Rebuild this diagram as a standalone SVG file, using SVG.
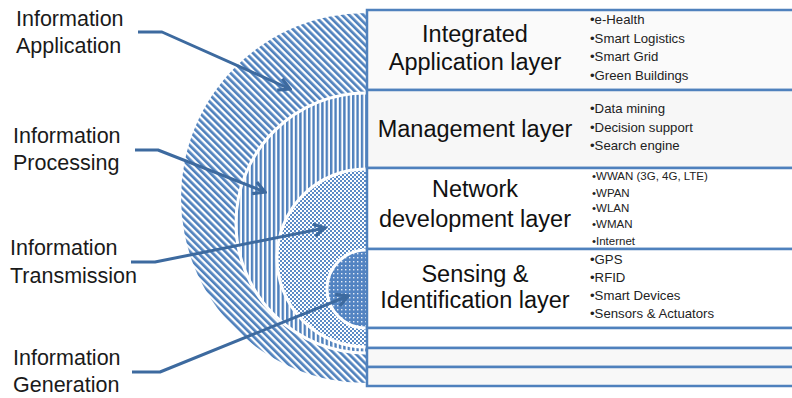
<svg xmlns="http://www.w3.org/2000/svg" width="792" height="398" viewBox="0 0 792 398">
<style>
.lbl{font-family:"Liberation Sans",Arial,sans-serif;font-size:21.5px;fill:#1a1a1a}
.big{font-family:"Liberation Sans",Arial,sans-serif;font-size:23.5px;fill:#111;text-anchor:middle}
.bul{font-family:"Liberation Sans",Arial,sans-serif;font-size:13.2px;fill:#222}
.bul2{font-family:"Liberation Sans",Arial,sans-serif;font-size:11.5px;fill:#222}
.box{stroke:#4f81bd;stroke-width:2.5}
.ring{stroke:#fff;stroke-width:3}
.arr{fill:none;stroke:#3d6a9f;stroke-width:3;stroke-linejoin:round;marker-end:url(#ah)}
</style>
<defs>
<pattern id="pDiag" patternUnits="userSpaceOnUse" width="5" height="5" patternTransform="rotate(-45)">
<rect width="5" height="5" fill="#fff"/><rect width="2.7" height="5" fill="#4f81bd"/>
</pattern>
<pattern id="pVert" patternUnits="userSpaceOnUse" width="4.4" height="4">
<rect width="4.4" height="4" fill="#fff"/><rect width="2.4" height="4" fill="#4f81bd"/>
</pattern>
<pattern id="pCheck" patternUnits="userSpaceOnUse" width="4" height="4">
<rect width="4" height="4" fill="#fff"/><rect width="2" height="2" fill="#5b8bc6"/><rect x="2" y="2" width="2" height="2" fill="#5b8bc6"/>
</pattern>
<pattern id="pDense" patternUnits="userSpaceOnUse" width="4" height="4">
<rect width="4" height="4" fill="#5384c2"/><rect x="1" y="1" width="1.4" height="1.4" fill="#e4ecf6"/>
</pattern>
<marker id="ah" viewBox="0 0 12 12" refX="10" refY="6" markerWidth="5" markerHeight="5" orient="auto" markerUnits="strokeWidth">
<polyline points="1,1 10,6 1,11" fill="none" stroke="#3d6a9f" stroke-width="2.6" stroke-linejoin="miter"/>
</marker>
</defs>

<g id="rings">
<circle cx="366" cy="198" r="185" fill="url(#pDiag)"/>
<circle class="ring" cx="366" cy="223" r="130" fill="url(#pVert)"/>
<circle class="ring" cx="366" cy="258" r="89" fill="url(#pCheck)"/>
<circle class="ring" cx="366" cy="289" r="39" fill="url(#pDense)"/>
</g>

<g id="layer-application">
<rect class="box" x="367" y="10" width="430" height="80" fill="#fafafa"/>
<text class="big" x="475" y="42">Integrated</text>
<text class="big" x="475" y="70">Application layer</text>
<text class="bul" x="590" y="24">•e-Health</text>
<text class="bul" x="590" y="43">•Smart Logistics</text>
<text class="bul" x="590" y="61">•Smart Grid</text>
<text class="bul" x="590" y="80">•Green Buildings</text>
</g>
<g id="layer-management">
<rect class="box" x="367" y="90" width="430" height="78" fill="#f7f7f7"/>
<text class="big" x="475" y="137">Management layer</text>
<text class="bul" x="590" y="113">•Data mining</text>
<text class="bul" x="590" y="132">•Decision support</text>
<text class="bul" x="590" y="150">•Search engine</text>
</g>
<g id="layer-network">
<rect class="box" x="367" y="168" width="430" height="81" fill="#ffffff"/>
<text class="big" x="475" y="197">Network</text>
<text class="big" x="475" y="227">development layer</text>
<text class="bul2" x="592" y="180">•WWAN (3G, 4G, LTE)</text>
<text class="bul2" x="592" y="197">•WPAN</text>
<text class="bul2" x="592" y="212">•WLAN</text>
<text class="bul2" x="592" y="228">•WMAN</text>
<text class="bul2" x="592" y="245">•Internet</text>
</g>
<g id="layer-sensing">
<rect class="box" x="367" y="249" width="430" height="79" fill="#ffffff"/>
<text class="big" x="475" y="282">Sensing &amp;</text>
<text class="big" x="475" y="308">Identification layer</text>
<text class="bul" x="590" y="264">•GPS</text>
<text class="bul" x="590" y="282">•RFID</text>
<text class="bul" x="590" y="300">•Smart Devices</text>
<text class="bul" x="590" y="318">•Sensors &amp; Actuators</text>
</g>
<g id="layer-empty-1"><rect class="box" x="367" y="328" width="430" height="20" fill="#ffffff"/></g>
<g id="layer-empty-2"><rect class="box" x="367" y="348" width="430" height="19" fill="#f8f8f8"/></g>
<g id="layer-empty-3"><rect class="box" x="367" y="367" width="430" height="19" fill="#f8f8f8"/></g>

<g id="label-application"><text class="lbl" x="16" y="26">Information</text><text class="lbl" x="16" y="53">Application</text></g>
<g id="label-processing"><text class="lbl" x="13" y="143">Information</text><text class="lbl" x="13" y="170">Processing</text></g>
<g id="label-transmission"><text class="lbl" x="10" y="255">Information</text><text class="lbl" x="10" y="283">Transmission</text></g>
<g id="label-generation"><text class="lbl" x="13" y="365">Information</text><text class="lbl" x="13" y="392">Generation</text></g>

<g id="connectors">
<path class="arr" d="M138,32 H162 L290,89"/>
<path class="arr" d="M135,150 H158 L265,192"/>
<path class="arr" d="M131,262 H155 L325,228"/>
<path class="arr" d="M132,372 H160 L348,296"/>
</g>
</svg>
